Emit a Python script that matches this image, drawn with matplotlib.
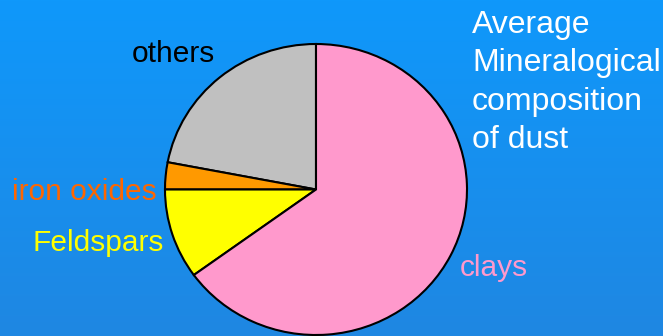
import matplotlib.pyplot as plt
import matplotlib.colors as mcolors
import numpy as np

plt.rcParams['font.family'] = ['Liberation Sans', 'DejaVu Sans']

# mineral fractions of dust (percent), counter-clockwise from 12 o'clock
minerals = ["others", "iron oxides", "Feldspars", "clays"]
fractions = [22, 3, 10, 65]
wedge_colors = ["#c0c0c0", "#ff9900", "#ffff00", "#ff99cc"]
label_colors = ["#000000", "#ff6600", "#ffff00", "#ff99cc"]
title_lines = ["Average", "Mineralogical", "composition", "of dust"]

W, H = 663, 336
fig = plt.figure(figsize=(W / 100, H / 100), dpi=100)

# blue gradient background
bg = fig.add_axes([0, 0, 1, 1])
grad = np.linspace(0, 1, 256).reshape(-1, 1)
cmap = mcolors.LinearSegmentedColormap.from_list("bg", ["#0f98fb", "#1f87e2"])
bg.imshow(grad, aspect="auto", cmap=cmap, extent=[0, 1, 0, 1])
bg.set_xlim(0, 1)
bg.set_ylim(0, 1)
bg.axis("off")


def px(x, y):
    return x / W, 1 - y / H


# pie sits in a slightly wider-than-tall box
left, top, right, bottom = 165, 44, 467, 335
ax = fig.add_axes([left / W, 1 - bottom / H, (right - left) / W, (bottom - top) / H])
ax.pie(fractions, colors=wedge_colors, startangle=90, counterclock=True,
       wedgeprops=dict(edgecolor="black", linewidth=1.5))
ax.set_aspect("auto")
ax.set_xlim(-1.0, 1.0)
ax.set_ylim(-1.0, 1.0)
ax.axis("off")

# slice labels
fig.text(*px(215, 62), minerals[0], color=label_colors[0], fontsize=21.5,
         ha="right", va="baseline")
fig.text(*px(157, 200), minerals[1], color=label_colors[1], fontsize=21.5,
         ha="right", va="baseline")
fig.text(*px(164, 251), minerals[2], color=label_colors[2], fontsize=21.5,
         ha="right", va="baseline")
fig.text(*px(460, 276), minerals[3], color=label_colors[3], fontsize=21.5,
         ha="left", va="baseline")

# title, one line at a time
for i, line in enumerate(title_lines):
    fig.text(*px(472, 33 + 38.3 * i), line, color="white", fontsize=23,
             ha="left", va="baseline")

fig.savefig("out.png", dpi=100)
